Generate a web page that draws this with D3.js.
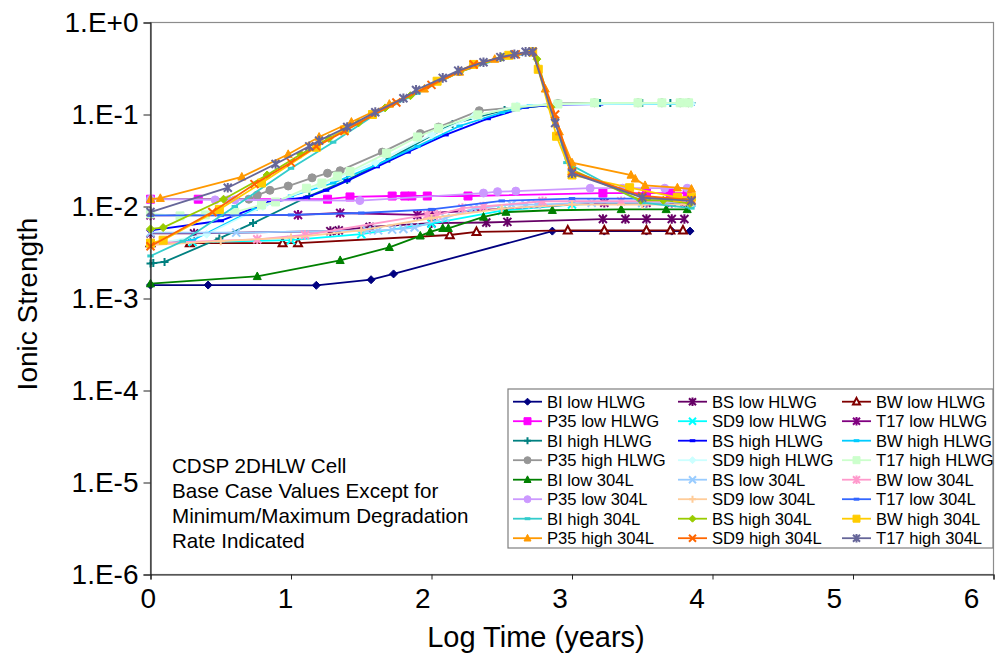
<!DOCTYPE html>
<html>
<head>
<meta charset="utf-8">
<script src="https://cdn.jsdelivr.net/npm/d3@7"></script>
<style>
  body { margin: 0; background: #fff; }
  text { font-family: Arial, 'Liberation Sans', sans-serif; fill: #000; }
</style>
</head>
<body>
<div id="chart"></div>
<script>
// values: [log time (years), ionic strength]
const biLowHLWG = [[0, 1.4e-3], [0.41, 1.4e-3], [1.18, 1.39e-3], [1.57, 1.6e-3], [1.73, 1.85e-3], [2.86, 5.4e-3], [3.23, 5.4e-3], [3.53, 5.4e-3], [3.71, 5.4e-3], [3.84, 5.4e-3]]
const bsLowHLWG = [[0, 5.1e-3], [0.31, 5.1e-3], [1.28, 5.4e-3], [1.34, 5.5e-3], [1.56, 6e-3], [2.0, 6.6e-3], [2.39, 6.7e-3], [2.54, 6.8e-3], [3.22, 7.3e-3], [3.38, 7.3e-3], [3.53, 7.3e-3], [3.71, 7.3e-3], [3.8, 7.3e-3]]
const bwLowHLWG = [[0, 4.0e-3], [0.28, 4.0e-3], [0.94, 4.0e-3], [1.05, 4.0e-3], [2.13, 4.9e-3], [2.32, 5.3e-3], [2.97, 5.5e-3], [3.23, 5.5e-3], [3.53, 5.5e-3], [3.7, 5.5e-3], [3.79, 5.5e-3]]
const p35LowHLWG = [[0, 0.012], [0.34, 0.012], [1.26, 0.012], [1.42, 0.0127], [1.72, 0.013], [1.81, 0.013], [1.86, 0.013], [1.97, 0.013], [2.26, 0.013], [3.22, 0.014], [3.53, 0.014], [3.7, 0.014], [3.82, 0.014]]
const sd9LowHLWG = [[0, 4.0e-3], [0.3, 4.1e-3], [1.0, 4.3e-3], [1.5, 5e-3], [2.0, 6.5e-3], [2.5, 9e-3], [3.0, 0.0105], [3.5, 0.011], [3.85, 0.011]]
const t17LowHLWG = [[0, 8e-3], [1.05, 8.1e-3], [1.35, 8.5e-3], [1.9, 8.1e-3], [2.0, 8.5e-3], [3.23, 0.011], [3.53, 0.011], [3.71, 0.011], [3.8, 0.011]]
const biHighHLWG = [[0, 2.4e-3], [0.02, 2.43e-3], [0.1, 2.5e-3], [0.49, 4.5e-3], [0.73, 6.6e-3], [1.13, 0.013], [1.4, 0.0194], [1.7, 0.033], [2.15, 0.079], [2.52, 0.112], [2.9, 0.13], [3.2, 0.133], [3.5, 0.133], [3.7, 0.133], [3.85, 0.133]]
const bsHighHLWG = [[0, 5.5e-3], [0.5, 7e-3], [0.85, 0.0112], [1.11, 0.0126], [1.25, 0.015], [1.4, 0.019], [1.61, 0.027], [1.83, 0.039], [2.1, 0.06], [2.4, 0.09], [2.67, 0.12], [2.9, 0.128], [3.2, 0.13], [3.85, 0.13]]
const bwHighHLWG = [[0, 4.0e-3], [0.3, 4.3e-3], [0.74, 9.3e-3], [1.0, 0.013], [1.3, 0.018], [1.6, 0.028], [1.9, 0.045], [2.2, 0.075], [2.5, 0.105], [2.7, 0.125], [2.9, 0.13], [3.85, 0.13]]
const p35HighHLWG = [[0, 0.012], [0.7, 0.012], [0.76, 0.0133], [0.85, 0.015], [0.98, 0.0167], [1.15, 0.0205], [1.26, 0.023], [1.35, 0.0245], [1.65, 0.039], [1.92, 0.062], [2.05, 0.073], [2.34, 0.11], [2.9, 0.132], [3.16, 0.134], [3.47, 0.134], [3.64, 0.134], [3.77, 0.134], [3.83, 0.134]]
const sd9HighHLWG = [[0, 3.8e-3], [0.4, 5e-3], [0.8, 0.01], [1.2, 0.017], [1.6, 0.03], [2.0, 0.06], [2.3, 0.095], [2.61, 0.124], [2.9, 0.13], [3.85, 0.131]]
const t17HighHLWG = [[0, 8.3e-3], [0.21, 7.9e-3], [0.39, 8.1e-3], [0.6, 8.7e-3], [0.79, 0.0104], [0.89, 0.0112], [1.11, 0.0158], [1.22, 0.018], [1.33, 0.0214], [1.42, 0.024], [1.68, 0.038], [1.9, 0.057], [2.05, 0.071], [2.33, 0.099], [2.6, 0.12], [2.9, 0.13], [3.16, 0.134], [3.47, 0.134], [3.64, 0.134], [3.77, 0.134], [3.83, 0.134]]
const biLow304L = [[0, 1.45e-3], [0.76, 1.74e-3], [1.35, 2.6e-3], [1.7, 3.6e-3], [1.92, 4.8e-3], [1.99, 5.3e-3], [2.08, 5.8e-3], [2.12, 5.8e-3], [2.37, 7.7e-3], [2.53, 8.7e-3], [2.86, 9.1e-3], [3.35, 9.3e-3], [3.67, 9.3e-3], [3.82, 9.3e-3]]
const bsLow304L = [[0, 5.2e-3], [0.61, 5.2e-3], [1.54, 5.5e-3], [1.62, 5.5e-3], [1.72, 5.6e-3], [1.8, 5.7e-3], [1.88, 5.9e-3], [2.1, 7.5e-3], [2.3, 9.5e-3], [2.57, 0.0105], [2.67, 0.0105], [2.75, 0.0105], [3.14, 0.011], [3.5, 0.011], [3.85, 0.011]]
const bwLow304L = [[0, 4.0e-3], [0.76, 4.4e-3], [1.1, 4.9e-3], [1.97, 8.1e-3], [2.04, 8.1e-3], [2.22, 9.6e-3], [2.37, 0.01], [2.79, 0.0114], [3.35, 0.0114], [3.52, 0.0114], [3.8, 0.0114]]
const p35Low304L = [[0, 0.012], [0.46, 0.0118], [0.55, 0.0118], [0.6, 0.0118], [1.49, 0.0116], [2.37, 0.014], [2.47, 0.0145], [2.6, 0.0147], [3.13, 0.0158], [3.36, 0.0158], [3.66, 0.0158], [3.82, 0.0158]]
const sd9Low304L = [[0, 3.8e-3], [0.5, 4.2e-3], [1.0, 4.6e-3], [1.5, 5.5e-3], [2.0, 7.5e-3], [2.5, 9.5e-3], [3.0, 0.0105], [3.5, 0.0105], [3.85, 0.0105]]
const t17Low304L = [[0, 8e-3], [0.5, 8e-3], [1.0, 8.1e-3], [1.5, 8.5e-3], [2.0, 9.3e-3], [2.5, 0.0115], [3.0, 0.0122], [3.5, 0.0122], [3.85, 0.0122]]
const biHigh304L = [[0, 2.9e-3], [0.23, 4.2e-3], [0.6, 0.01], [1.0, 0.026], [1.3, 0.05], [1.6, 0.1], [1.9, 0.17], [2.2, 0.29], [2.5, 0.41], [2.72, 0.47], [2.88, 0.09], [2.96, 0.03], [3.5, 0.011], [3.85, 0.0096]]
const bsHigh304L = [[0, 5.7e-3], [0.09, 5.9e-3], [0.52, 0.012], [0.83, 0.022], [1.07, 0.037], [1.27, 0.055], [1.48, 0.081], [1.67, 0.118], [1.85, 0.16], [2.2, 0.29], [2.5, 0.42], [2.7, 0.47], [2.75, 0.4], [2.85, 0.12], [3.0, 0.025], [3.49, 0.0117], [3.65, 0.0117], [3.84, 0.0108]]
const bwHigh304L = [[0, 4.0e-3], [0.09, 4.3e-3], [0.49, 9.3e-3], [0.79, 0.018], [1.18, 0.044], [1.38, 0.068], [1.58, 0.1], [2.04, 0.23], [2.3, 0.35], [2.55, 0.44], [2.72, 0.48], [2.76, 0.31], [2.89, 0.058], [3.0, 0.022], [3.41, 0.016], [3.75, 0.0126], [3.85, 0.0126]]
const p35High304L = [[0, 0.012], [0.07, 0.0123], [0.65, 0.021], [0.98, 0.037], [1.2, 0.057], [1.43, 0.083], [1.7, 0.13], [1.95, 0.19], [2.2, 0.29], [2.45, 0.4], [2.72, 0.48], [2.81, 0.19], [2.91, 0.065], [3.0, 0.03], [3.42, 0.022], [3.45, 0.02], [3.52, 0.017], [3.75, 0.016], [3.85, 0.0155]]
const sd9High304L = [[0, 3.7e-3], [0.44, 8.7e-3], [0.74, 0.0175], [1.0, 0.03], [1.18, 0.045], [1.38, 0.066], [1.75, 0.135], [2.0, 0.21], [2.3, 0.35], [2.6, 0.45], [2.72, 0.48], [2.88, 0.1], [3.0, 0.024], [3.5, 0.013], [3.85, 0.0118]]
const t17High304L = [[0, 8.7e-3], [0.55, 0.016], [0.89, 0.029], [1.13, 0.045], [1.2, 0.052], [1.4, 0.073], [1.6, 0.106], [1.8, 0.15], [1.89, 0.185], [2.08, 0.25], [2.19, 0.3], [2.37, 0.37], [2.49, 0.42], [2.59, 0.45], [2.67, 0.48], [2.72, 0.48], [2.88, 0.081], [3.0, 0.023], [3.5, 0.0125], [3.85, 0.0115]]

const seriesNames = [
  'BI low HLWG', 'BS low HLWG', 'BW low HLWG',
  'P35 low HLWG', 'SD9 low HLWG', 'T17 low HLWG',
  'BI high HLWG', 'BS high HLWG', 'BW high HLWG',
  'P35 high HLWG', 'SD9 high HLWG', 'T17 high HLWG',
  'BI low 304L', 'BS low 304L', 'BW low 304L',
  'P35 low 304L', 'SD9 low 304L', 'T17 low 304L',
  'BI high 304L', 'BS high 304L', 'BW high 304L',
  'P35 high 304L', 'SD9 high 304L', 'T17 high 304L'
]
const seriesValues = [
  biLowHLWG, bsLowHLWG, bwLowHLWG,
  p35LowHLWG, sd9LowHLWG, t17LowHLWG,
  biHighHLWG, bsHighHLWG, bwHighHLWG,
  p35HighHLWG, sd9HighHLWG, t17HighHLWG,
  biLow304L, bsLow304L, bwLow304L,
  p35Low304L, sd9Low304L, t17Low304L,
  biHigh304L, bsHigh304L, bwHigh304L,
  p35High304L, sd9High304L, t17High304L
]
const seriesColors = [
  '#000080', '#660066', '#800000',
  '#FF00FF', '#00FFFF', '#800080',
  '#008080', '#0000FF', '#00CCFF',
  '#969696', '#CCFFFF', '#CCFFCC',
  '#008000', '#99CCFF', '#FF99CC',
  '#CC99FF', '#FFCC99', '#3366FF',
  '#33CCCC', '#99CC00', '#FFCC00',
  '#FF9900', '#FF6600', '#666699'
]
const seriesMarkers = [
  'diamond', 'star', 'triangleOpen',
  'square', 'x', 'star',
  'plus', 'dash', 'dash',
  'circle', 'diamond', 'square',
  'triangle', 'x', 'star',
  'circle', 'plus', 'dash',
  'dash', 'diamond', 'square',
  'triangle', 'x', 'star'
]

const xTicks = [0, 1, 2, 3, 4, 5, 6]
const yTicks = [1e-6, 1e-5, 1e-4, 1e-3, 1e-2, 1e-1, 1]
const yTickLabels = ['1.E-6', '1.E-5', '1.E-4', '1.E-3', '1.E-2', '1.E-1', '1.E+0']
const noteLines = ['CDSP 2DHLW Cell', 'Base Case Values Except for', 'Minimum/Maximum Degradation', 'Rate Indicated']

const margin = { top: 22.5, left: 150.5, right: 1.5, bottom: 78.5 }
const totalWidth = 995
const totalHeight = 653
const width = totalWidth - margin.left - margin.right
const height = totalHeight - margin.top - margin.bottom

const svgRoot = d3
  .select('#chart')
  .append('svg')
  .attr('width', totalWidth)
  .attr('height', totalHeight)

const svg = svgRoot
  .append('g')
  .attr('transform', 'translate(' + margin.left + ',' + margin.top + ')')

const xPositionScale = d3.scaleLinear().domain([0, 6]).range([0, width])
const yPositionScale = d3.scaleLog().domain([1e-6, 1]).range([height, 0])
// excel drifts the x labels to the left of their ticks
const xLabelScale = d3.scaleLinear().domain([0, 6]).range([-2.7, 820.5])

// frame (top + right in gray)
svg
  .append('rect')
  .attr('width', width)
  .attr('height', height)
  .attr('fill', 'none')
  .attr('stroke', '#8c8c8c')
  .attr('stroke-width', 1.2)

function markerPath(type, r) {
  if (type === 'diamond') return `M0,${-r}L${r},0L0,${r}L${-r},0Z`
  if (type === 'square') return `M${-r},${-r}H${r}V${r}H${-r}Z`
  if (type === 'triangle' || type === 'triangleOpen') return `M0,${-r * 1.1}L${r},${r * 0.8}L${-r},${r * 0.8}Z`
  if (type === 'circle') return `M${r},0A${r},${r} 0 1,1 ${-r},0A${r},${r} 0 1,1 ${r},0Z`
  if (type === 'plus') return `M${-r},0H${r}M0,${-r}V${r}`
  if (type === 'x') return `M${-r},${-r}L${r},${r}M${-r},${r}L${r},${-r}`
  if (type === 'star') return `M${-r},${-r}L${r},${r}M${-r},${r}L${r},${-r}M0,${-r * 1.2}V${r * 1.2}`
  return `M${-r * 0.8},0H${r * 0.8}`
}

function styleMarker(sel, type, color) {
  const filled = ['diamond', 'square', 'triangle', 'circle'].includes(type)
  sel
    .attr('fill', filled ? color : type === 'triangleOpen' ? '#fff' : 'none')
    .attr('stroke', color)
    .attr('stroke-width', filled ? 1 : type === 'dash' ? 3 : 2)
}

const line = d3
  .line()
  .x(d => xPositionScale(d[0]))
  .y(d => yPositionScale(d[1]))

const plot = svg.append('g').attr('class', 'series')

seriesValues.forEach((values, i) => {
  const g = plot.append('g')
  g.append('path')
    .datum(values)
    .attr('d', line)
    .attr('fill', 'none')
    .attr('stroke', seriesColors[i])
    .attr('stroke-width', 1.8)
  g.selectAll('.marker')
    .data(values)
    .enter()
    .append('path')
    .attr('class', 'marker')
    .attr('transform', d => `translate(${xPositionScale(d[0])},${yPositionScale(d[1])})`)
    .attr('d', markerPath(seriesMarkers[i], 4))
    .call(styleMarker, seriesMarkers[i], seriesColors[i])
})

// axes
const yAxis = d3
  .axisLeft(yPositionScale)
  .tickValues(yTicks)
  .tickFormat((d, i) => yTickLabels[i])
  .tickSize(7)
  .tickPadding(5)

const xAxis = d3
  .axisBottom(xPositionScale)
  .tickValues(xTicks)
  .tickFormat(d3.format('d'))
  .tickSize(5)
  .tickPadding(9)

const yAxisG = svg.append('g').attr('class', 'y axis').call(yAxis)
yAxisG.select('.domain').attr('stroke', '#222').attr('stroke-width', 1.2)
yAxisG.selectAll('.tick line').attr('stroke', '#222')
yAxisG.selectAll('.tick text').style('font-size', '28px').style('font-family', 'Arial, Liberation Sans, sans-serif').attr('fill', '#000')

const xAxisG = svg
  .append('g')
  .attr('class', 'x axis')
  .attr('transform', 'translate(0,' + height + ')')
  .call(xAxis)
xAxisG.select('.domain').attr('stroke', '#222').attr('stroke-width', 1.2)
xAxisG.selectAll('.tick line').attr('stroke', '#222')
xAxisG
  .selectAll('.tick text')
  .style('font-size', '28px')
  .style('font-family', 'Arial, Liberation Sans, sans-serif')
  .attr('fill', '#000')
  .attr('dx', d => xLabelScale(d) - xPositionScale(d))

// axis titles
svgRoot
  .append('text')
  .attr('transform', 'translate(37,304) rotate(-90)')
  .style('text-anchor', 'middle')
  .style('font-size', '28px')
  .text('Ionic Strength')

svgRoot
  .append('text')
  .attr('x', 536)
  .attr('y', 647)
  .style('text-anchor', 'middle')
  .style('font-size', '29px')
  .text('Log Time (years)')

// note
svgRoot
  .append('g')
  .selectAll('text')
  .data(noteLines)
  .enter()
  .append('text')
  .attr('x', 172)
  .attr('y', (d, i) => 473 + i * 25)
  .style('font-size', '20.6px')
  .text(d => d)

// legend
const legend = svgRoot.append('g').attr('class', 'legend')
legend
  .append('rect')
  .attr('x', 508)
  .attr('y', 389)
  .attr('width', 485)
  .attr('height', 159)
  .attr('fill', '#fff')
  .attr('stroke', '#7f7f7f')
  .attr('stroke-width', 1.2)

const colX = [513, 678, 842]
seriesNames.forEach((name, i) => {
  const col = i % 3
  const row = Math.floor(i / 3)
  const y = 401.7 + row * 19.5
  const x0 = colX[col]
  const item = legend.append('g')
  item
    .append('line')
    .attr('x1', x0)
    .attr('x2', x0 + 29)
    .attr('y1', y)
    .attr('y2', y)
    .attr('stroke', seriesColors[i])
    .attr('stroke-width', 1.8)
  item
    .append('path')
    .attr('transform', `translate(${x0 + 14.5},${y})`)
    .attr('d', markerPath(seriesMarkers[i], 3.5))
    .call(styleMarker, seriesMarkers[i], seriesColors[i])
  item
    .append('text')
    .attr('x', x0 + 34)
    .attr('y', y)
    .attr('dy', '0.36em')
    .style('font-size', '16.6px')
    .text(name)
})
</script>
</body>
</html>
